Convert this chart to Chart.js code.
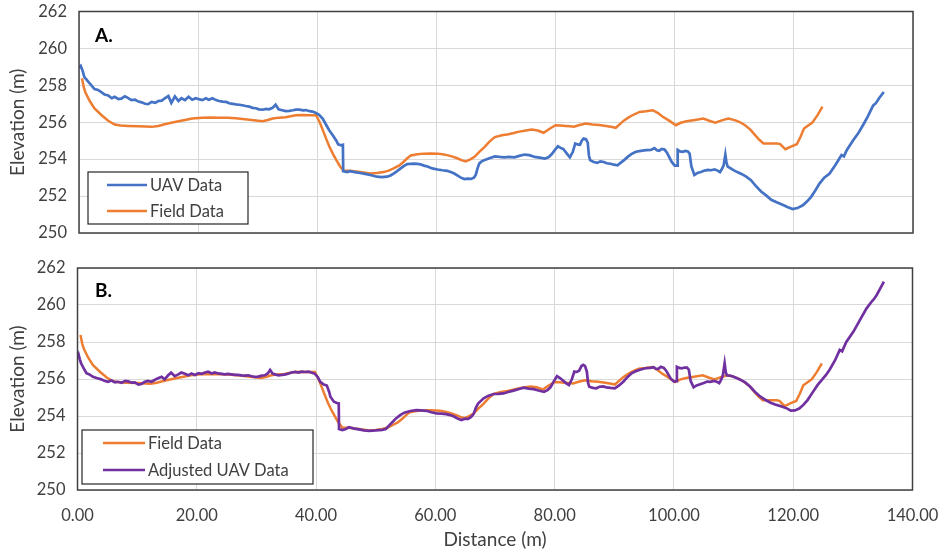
<!DOCTYPE html>
<html>
<head>
<meta charset="utf-8">
<script src="https://cdn.jsdelivr.net/npm/chart.js@4.4.0/dist/chart.umd.min.js"></script>
<style>
  html,body{margin:0;padding:0;background:#fff;}
  body{width:947px;height:554px;position:relative;overflow:hidden;}
  canvas{position:absolute;left:0;}
  #cA{top:0;}
  #cB{top:250px;}
</style>
</head>
<body>
<canvas id="cA" width="947" height="250"></canvas>
<canvas id="cB" width="947" height="304"></canvas>
<script>
// ---------- DATA ----------
const uavDist = [0.0,0.3,0.6,0.9,1.3,1.8,2.6,3.2,3.8,4.3,4.9,5.5,6.0,6.6,7.1,7.7,8.2,8.8,9.4,10.0,10.5,11.1,11.6,12.2,12.8,13.3,13.9,14.4,15.0,15.5,16.1,16.7,17.2,17.8,18.4,19.0,19.6,20.1,20.7,21.3,21.8,22.4,23.0,23.5,24.1,24.7,25.2,25.8,26.3,26.9,27.4,28.0,28.6,29.1,29.7,30.2,30.8,31.4,31.9,32.5,33.0,33.5,34.1,34.7,35.3,35.9,36.4,37.0,37.6,38.1,38.7,39.2,39.7,40.3,40.9,41.5,42.0,42.6,43.2,43.5,44.0,44.3,44.35,45.0,45.5,46.3,47.2,48.0,48.9,50.0,50.8,51.7,52.3,52.8,53.4,54.0,54.5,55.1,55.7,56.2,56.8,57.3,57.9,58.5,59.3,60.2,61.0,61.8,62.4,63.0,63.5,64.1,64.7,65.2,65.8,66.3,66.6,66.9,67.2,67.6,68.1,68.9,69.8,70.6,71.4,72.2,73.1,73.9,74.8,75.6,76.5,77.3,78.2,78.8,79.3,79.9,80.4,80.9,81.3,81.9,82.4,82.9,83.3,83.7,84.1,84.4,84.7,85.1,85.4,85.6,85.8,86.4,87.0,87.5,88.1,88.6,89.2,89.8,90.4,90.9,91.5,92.2,92.9,93.5,94.3,95.2,96.0,96.6,97.0,97.4,97.8,98.3,98.7,99.1,99.5,100.0,100.4,100.5,100.9,101.3,101.8,102.2,102.5,102.8,103.3,103.8,104.4,105.0,105.6,106.1,106.7,107.2,107.6,107.9,108.2,108.5,108.7,108.9,109.4,109.8,110.5,111.2,112.0,112.8,113.6,114.5,115.3,116.2,117.2,118.2,119.0,119.8,120.6,121.5,122.2,122.9,123.6,124.3,125.1,126.0,127.0,128.0,128.4,128.9,129.9,130.8,131.6,132.4,133.3,133.8,134.3,135.1];
const uavElev = [258.95,259.05,258.8,258.45,258.3,258.1,257.8,257.75,257.62,257.5,257.45,257.3,257.38,257.25,257.28,257.4,257.32,257.2,257.22,257.12,257.08,257.0,256.98,257.1,257.05,257.15,257.17,257.3,257.42,257.05,257.4,257.15,257.3,257.2,257.38,257.22,257.3,257.25,257.2,257.3,257.22,257.3,257.2,257.15,257.12,257.1,257.03,257.0,256.97,256.95,256.92,256.88,256.85,256.78,256.76,256.7,256.68,256.72,256.7,256.78,256.95,256.7,256.65,256.6,256.62,256.65,256.68,256.68,256.64,256.66,256.6,256.58,256.52,256.4,256.2,255.85,255.57,255.3,255.0,254.8,254.75,254.78,253.35,253.3,253.35,253.3,253.25,253.2,253.14,253.05,253.03,253.05,253.12,253.22,253.35,253.5,253.62,253.73,253.75,253.76,253.74,253.72,253.65,253.6,253.5,253.44,253.4,253.37,253.3,253.22,253.12,253.0,252.92,252.95,252.93,253.0,253.15,253.5,253.77,253.88,253.95,254.05,254.15,254.12,254.1,254.12,254.1,254.18,254.25,254.22,254.12,254.08,254.03,254.1,254.25,254.5,254.7,254.6,254.55,254.3,254.1,254.4,254.85,254.8,254.78,255.0,255.12,255.08,254.9,254.2,253.95,253.85,253.8,253.88,253.85,253.78,253.75,253.7,253.67,253.8,253.95,254.15,254.31,254.4,254.45,254.49,254.5,254.6,254.48,254.45,254.55,254.52,254.35,254.1,253.85,253.65,253.65,254.5,254.42,254.4,254.45,254.42,254.3,253.6,253.15,253.25,253.3,253.38,253.42,253.4,253.45,253.38,253.3,253.45,253.65,254.25,253.8,253.6,253.5,253.42,253.3,253.2,253.05,252.86,252.55,252.25,252.05,251.8,251.65,251.52,251.4,251.3,251.35,251.5,251.7,251.96,252.3,252.68,253.0,253.22,253.7,254.22,254.15,254.5,255.0,255.4,255.84,256.3,256.9,257.05,257.3,257.64];

const fieldDist = [0.5,0.8,1.1,1.8,2.6,3.8,4.9,6.0,7.0,8.2,10.0,12.2,13.3,14.4,15.5,16.7,18.0,19.0,20.7,22.0,23.5,25.0,26.3,27.5,28.6,29.7,30.8,31.7,32.5,33.6,34.7,35.5,36.4,37.5,38.5,39.8,40.4,40.9,41.5,42.0,42.6,43.2,43.8,44.4,45.5,47.2,48.9,50.0,51.1,52.0,52.8,53.7,54.5,55.1,55.7,56.8,57.9,59.0,60.2,61.0,61.8,62.7,63.5,64.2,64.9,65.6,66.4,67.2,68.1,68.9,69.8,71.0,72.1,73.0,73.7,75.0,76.0,77.0,78.0,79.0,80.0,80.8,81.7,82.4,83.1,84.0,85.1,86.2,87.3,88.5,89.5,90.1,90.8,91.5,92.2,92.9,94.1,95.2,96.3,97.2,98.0,99.0,100.2,101.0,102.0,103.4,104.8,105.8,106.8,107.9,109.0,110.2,111.0,111.8,112.7,113.5,114.2,114.9,116.0,117.2,117.7,118.2,118.6,119.5,120.5,121.1,121.7,122.4,123.1,124.0,124.8];
const fieldElev = [258.38,257.9,257.6,257.15,256.75,256.38,256.08,255.88,255.82,255.8,255.78,255.75,255.8,255.89,255.97,256.05,256.14,256.2,256.25,256.26,256.25,256.24,256.22,256.18,256.14,256.1,256.05,256.12,256.2,256.25,256.27,256.32,256.38,256.39,256.38,256.38,256.0,255.6,255.1,254.7,254.3,253.95,253.62,253.38,253.37,253.3,253.22,253.25,253.3,253.38,253.5,253.65,253.86,254.05,254.2,254.27,254.3,254.31,254.3,254.27,254.22,254.14,254.05,253.95,253.88,253.98,254.13,254.4,254.67,254.95,255.2,255.3,255.35,255.42,255.48,255.55,255.6,255.55,255.43,255.65,255.84,255.83,255.8,255.78,255.76,255.85,255.93,255.88,255.85,255.8,255.74,255.7,255.9,256.1,256.25,256.38,256.56,256.6,256.65,256.5,256.3,256.1,255.84,255.97,256.05,256.12,256.2,256.08,255.98,256.1,256.2,256.1,256.0,255.84,255.6,255.3,255.05,254.85,254.85,254.85,254.82,254.65,254.54,254.68,254.81,255.2,255.66,255.82,255.98,256.4,256.85];

const adjDist = [0.0,0.2,0.4,0.6,1.0,1.5,2.0,2.6,3.2,4.0,4.5,5.1,5.7,6.3,6.8,7.4,8.0,8.5,9.1,9.6,10.2,10.7,11.3,11.8,12.4,13.0,13.6,14.1,14.6,15.2,15.7,16.3,16.9,17.4,18.0,18.6,19.1,19.7,20.3,20.8,21.4,21.9,22.5,23.0,23.6,24.2,24.7,25.2,25.8,26.4,26.9,27.5,28.0,28.6,29.2,29.7,30.3,30.9,31.4,31.9,32.3,32.7,33.1,33.7,34.3,34.9,35.4,35.9,36.5,37.0,37.6,38.1,38.7,39.2,39.8,40.3,40.7,41.3,41.8,42.2,42.4,43.0,43.5,43.8,43.85,44.4,45.0,45.5,46.4,47.2,48.0,48.9,50.0,51.1,51.7,52.3,52.9,53.4,54.1,54.8,55.8,56.8,57.6,58.5,59.3,60.2,61.0,61.8,62.5,63.2,63.8,64.4,64.9,65.5,66.0,66.4,66.8,67.2,68.1,68.9,69.8,70.6,71.4,72.2,73.1,73.9,74.8,75.6,76.5,77.3,78.2,78.8,79.3,79.9,80.4,80.9,81.3,81.9,82.4,82.9,83.3,83.7,84.1,84.5,84.8,85.1,85.4,85.6,85.8,86.4,87.0,87.5,88.1,88.7,89.4,90.1,90.8,91.5,92.2,92.9,93.5,94.3,95.2,96.0,96.6,97.0,97.4,97.8,98.3,98.7,99.1,99.5,100.0,100.4,100.5,100.9,101.3,101.8,102.2,102.5,102.8,103.3,103.8,104.4,105.0,105.6,106.1,106.7,107.2,107.6,107.9,108.2,108.5,108.7,108.9,109.4,109.8,110.5,111.2,112.0,112.8,113.6,114.5,115.3,116.2,117.2,118.2,119.0,119.6,120.3,121.0,121.7,122.4,123.2,124.1,124.8,125.5,126.1,127.0,127.8,128.2,128.9,130.1,131.2,132.3,133.2,133.6,134.0,134.6,135.2];
const adjElev = [257.1,257.3,257.05,256.85,256.6,256.31,256.25,256.12,256.05,255.98,255.9,255.85,255.92,255.82,255.85,255.8,255.9,255.87,255.8,255.82,255.7,255.73,255.85,255.9,255.85,255.96,256.05,256.12,255.98,256.2,256.34,256.15,256.25,256.35,256.28,256.2,256.3,256.22,256.32,256.28,256.35,256.4,256.3,256.35,256.3,256.28,256.25,256.28,256.25,256.22,256.23,256.2,256.18,256.2,256.15,256.12,256.13,256.18,256.2,256.3,256.49,256.3,256.25,256.2,256.22,256.25,256.3,256.35,256.38,256.35,256.4,256.38,256.4,256.35,256.28,256.1,255.85,255.7,255.65,255.3,255.04,254.77,254.7,254.68,253.3,253.24,253.3,253.39,253.32,253.28,253.22,253.2,253.22,253.25,253.3,253.51,253.7,253.87,254.05,254.18,254.27,254.32,254.3,254.28,254.2,254.14,254.13,254.1,254.05,253.96,253.85,253.78,253.85,253.85,253.95,254.1,254.45,254.69,254.96,255.1,255.19,255.2,255.22,255.3,255.37,255.45,255.53,255.48,255.45,255.38,255.31,255.4,255.55,255.9,256.16,256.05,255.95,255.78,255.67,256.0,256.4,256.38,256.45,256.7,256.76,256.7,256.4,255.8,255.58,255.52,255.5,255.58,255.6,255.55,255.52,255.5,255.65,255.85,256.1,256.31,256.4,256.5,256.58,256.6,256.64,256.55,256.55,256.66,256.6,256.45,256.22,256.0,255.86,255.88,256.66,256.6,256.58,256.62,256.62,256.5,255.9,255.55,255.65,255.72,255.78,255.86,255.85,255.9,255.85,255.78,255.95,256.2,256.85,256.35,256.2,256.18,256.15,256.05,255.95,255.8,255.58,255.3,255.04,254.88,254.72,254.6,254.5,254.4,254.29,254.3,254.4,254.6,254.86,255.25,255.68,255.95,256.22,256.5,257.0,257.57,257.5,258.0,258.56,259.2,259.82,260.2,260.35,260.54,260.9,261.26];

const xTicks = [0,20,40,60,80,100,120,140];
const yTicks = [250,252,254,256,258,260,262];

// ---------- HELPERS ----------
const pts = (xs, ys) => xs.map((x, i) => ({x: x, y: ys[i]}));
const FONT = 'Lato, "Open Sans", sans-serif';
const TXT = '#404040';
const BLUE = '#4472C4', ORANGE = '#ED7D31', PURPLE = '#7030A0';

const decor = {
  id: 'decor',
  afterDatasetsDraw(chart, args, o) {
    const ctx = chart.ctx, a = chart.chartArea;
    ctx.save();
    ctx.strokeStyle = '#404040';
    ctx.lineWidth = 1.5;
    ctx.strokeRect(a.left, a.top, a.right - a.left, a.bottom - a.top);
    ctx.fillStyle = '#fff';
    ctx.fillRect(o.box[0], o.box[1], o.box[2], o.box[3]);
    ctx.strokeStyle = '#262626';
    ctx.lineWidth = 1.2;
    ctx.strokeRect(o.box[0], o.box[1], o.box[2], o.box[3]);
    ctx.font = '16.5px ' + FONT;
    ctx.textBaseline = 'middle';
    ctx.textAlign = 'left';
    o.rows.forEach((r) => {
      const ds = chart.data.datasets[r.ds];
      ctx.strokeStyle = ds.borderColor;
      ctx.lineWidth = ds.borderWidth;
      ctx.beginPath();
      ctx.moveTo(o.lx0, r.y); ctx.lineTo(o.lx1, r.y);
      ctx.stroke();
      ctx.fillStyle = TXT;
      ctx.fillText(ds.label, o.tx, r.y + 1);
    });
    ctx.font = 'bold 19px ' + FONT;
    ctx.fillStyle = '#000';
    ctx.fillText(o.tag, o.tagX, o.tagY);
    ctx.restore();
  }
};

function yScale(width) {
  return {
    type: 'linear', min: 250, max: 262,
    afterBuildTicks: s => { s.ticks = yTicks.map(v => ({value: v})); },
    afterFit: s => { s.width = width; s.paddingTop = 0; s.paddingBottom = 0; },
    grid: {color: '#d9d9d9', lineWidth: 1, drawTicks: false},
    border: {display: false},
    ticks: {color: TXT, font: {family: FONT, size: 16.5}, padding: 12},
    title: {display: true, text: 'Elevation (m)', color: TXT,
            font: {family: FONT, size: 19}, padding: {top: 6, bottom: 0}}
  };
}

function xScale(showLabels, height) {
  return {
    type: 'linear', min: 0, max: 140,
    afterBuildTicks: s => { s.ticks = xTicks.map(v => ({value: v})); },
    afterFit: s => { s.height = height; s.paddingLeft = 0; s.paddingRight = 0; },
    grid: {color: '#d9d9d9', lineWidth: 1, drawTicks: false},
    border: {display: false},
    ticks: {display: showLabels, color: TXT, font: {family: FONT, size: 16.5},
            padding: 16, maxRotation: 0, callback: v => Number(v).toFixed(2)},
    title: {display: showLabels, text: 'Distance (m)', color: TXT,
            font: {family: FONT, size: 19}, padding: {top: 0, bottom: 3}}
  };
}

const common = (extra) => ({
  responsive: false,
  animation: false,
  events: [],
  layout: extra.layout,
  plugins: {legend: {display: false}, tooltip: {enabled: false}, decor: extra.decor},
  elements: {point: {radius: 0}, line: {tension: 0}},
  scales: {x: extra.x, y: extra.y}
});

new Chart(document.getElementById('cA'), {
  type: 'line',
  data: {datasets: [
    {label: 'UAV Data', data: pts(uavDist, uavElev), borderColor: BLUE, borderWidth: 2.7, order: 1},
    {label: 'Field Data', data: pts(fieldDist, fieldElev), borderColor: ORANGE, borderWidth: 2.5, order: 2}
  ]},
  options: common({
    layout: {padding: {left: 0, right: 34, top: 11.5, bottom: 0}},
    x: xScale(false, 17),
    y: yScale(79),
    decor: {box: [88, 172, 160, 52], lx0: 107, lx1: 147, tx: 150,
            rows: [{ds: 0, y: 185}, {ds: 1, y: 211}], tag: 'A.', tagX: 95, tagY: 36}
  }),
  plugins: [decor]
});

new Chart(document.getElementById('cB'), {
  type: 'line',
  data: {datasets: [
    {label: 'Field Data', data: pts(fieldDist, fieldElev), borderColor: ORANGE, borderWidth: 2.5, order: 2},
    {label: 'Adjusted UAV Data', data: pts(adjDist, adjElev), borderColor: PURPLE, borderWidth: 2.7, order: 1}
  ]},
  options: common({
    layout: {padding: {left: 0, right: 34.5, top: 18, bottom: 0}},
    x: xScale(true, 64),
    y: yScale(77.5),
    decor: {box: [82, 180, 231, 54], lx0: 103, lx1: 145, tx: 148,
            rows: [{ds: 0, y: 193}, {ds: 1, y: 220}], tag: 'B.', tagX: 95, tagY: 41}
  }),
  plugins: [decor]
});
</script>
</body>
</html>
